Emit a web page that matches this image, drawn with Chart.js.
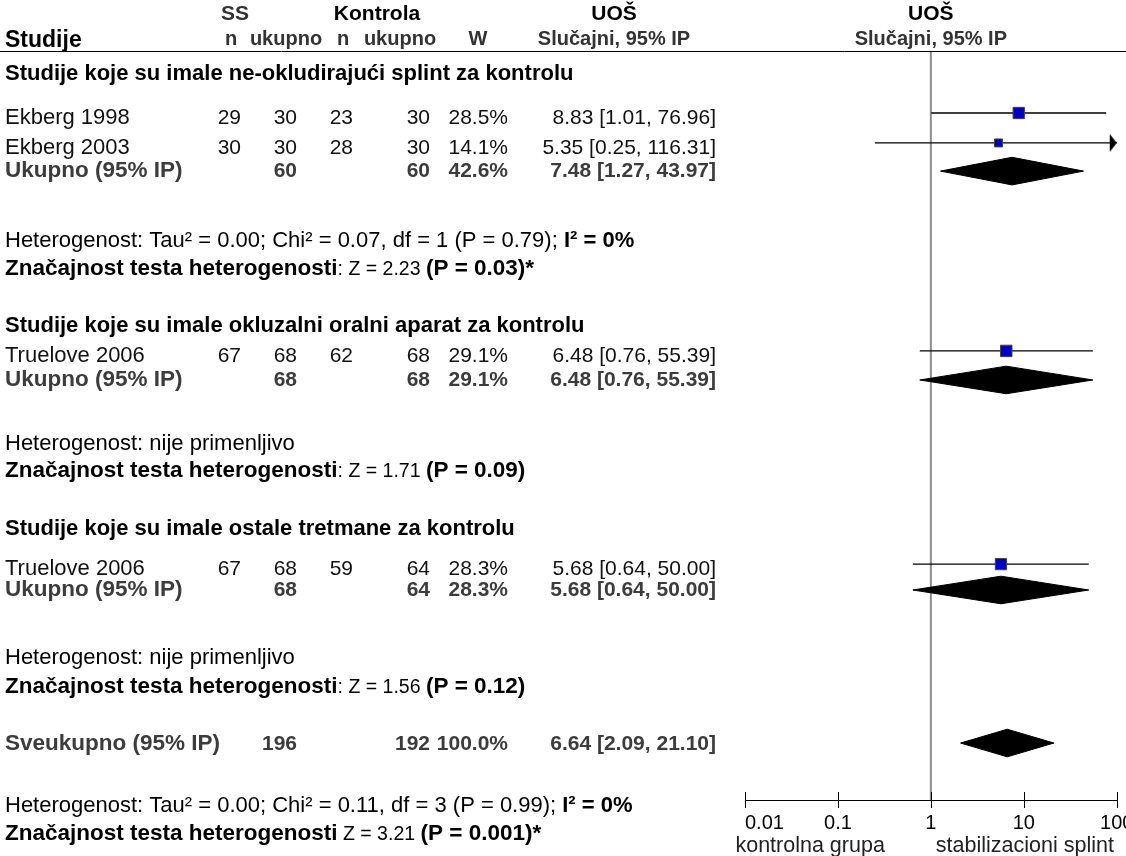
<!DOCTYPE html>
<html>
<head>
<meta charset="utf-8">
<script src="https://cdn.jsdelivr.net/npm/chart.js@4.4.1/dist/chart.umd.min.js"></script>
<style>
  html, body { margin: 0; padding: 0; background: #fff; }
  #forest { display: block; }
</style>
</head>
<body>
<canvas id="forest" width="1126" height="856"></canvas>
<script>
// study level data
const studies = ['Ekberg 1998', 'Ekberg 2003', 'Truelove 2006', 'Truelove 2006'];
const ssEvents = [29, 30, 67, 67];
const ssTotal = [30, 30, 68, 68];
const ctlEvents = [23, 28, 62, 59];
const ctlTotal = [30, 30, 68, 64];
const weights = [28.5, 14.1, 29.1, 28.3];
const orEst = [8.83, 5.35, 6.48, 5.68];
const orLow = [1.01, 0.25, 0.76, 0.64];
const orHigh = [76.96, 116.31, 55.39, 50.00];

// subgroup data
const groupTitles = [
  'Studije koje su imale ne-okludirajući splint za kontrolu',
  'Studije koje su imale okluzalni oralni aparat za kontrolu',
  'Studije koje su imale ostale tretmane za kontrolu'
];
const groupMembers = [[0, 1], [2], [3]];
const groupSsTotal = [60, 68, 68];
const groupCtlTotal = [60, 68, 64];
const groupWeight = [42.6, 29.1, 28.3];
const groupEst = [7.48, 6.48, 5.68];
const groupLow = [1.27, 0.76, 0.64];
const groupHigh = [43.97, 55.39, 50.00];
const groupHet = ['Tau² = 0.00; Chi² = 0.07, df = 1 (P = 0.79); ', 'nije primenljivo', 'nije primenljivo'];
const groupI2 = ['I² = 0%', '', ''];
const groupZ = ['2.23', '1.71', '1.56'];
const groupP = ['0.03', '0.09', '0.12'];
const groupStar = [true, false, false];

// overall
const overallSsTotal = 196;
const overallCtlTotal = 192;
const overallWeight = 100.0;
const overallEst = 6.64, overallLow = 2.09, overallHigh = 21.10;
const overallHet = 'Tau² = 0.00; Chi² = 0.11, df = 3 (P = 0.99); ';
const overallI2 = 'I² = 0%';
const overallZ = '3.21', overallP = '0.001';

// axis
const tickVals = [0.01, 0.1, 1, 10, 100];
const tickLabels = ['0.01', '0.1', '1', '10', '100'];
const favourLabels = ['kontrolna grupa', 'stabilizacioni splint'];
const colHeads = ['n', 'ukupno', 'n', 'ukupno', 'W', 'Slučajni, 95% IP'];

// layout (row slots on the y scale, column positions in px)
const rowY = {
  head1: -1.36, head2: -0.49,
  groups: [0.73, 9.49, 16.55],
  studies: [2.12, 3.16, 10.39, 17.80],
  totals: [4.14, 11.40, 18.70],
  het: [6.53, 13.59, 21.03],
  sig: [7.51, 14.53, 22.04],
  overall: 24.02, overallHet: 26.17, overallSig: 27.15
};
const colX = { name: 5, ssN: 241, ssTot: 297, ctlN: 353, ctlTot: 430, w: 508, ci: 716 };
const colHeadX = [231, 286, 343, 400, 478, 614];
const diamondHalf = 0.48;
const xMax = 100;

const FAM = '"Liberation Sans", Arial, sans-serif';
const font = (size, bold) => (bold ? 'bold ' : '') + size + 'px ' + FAM;
const ci = (e, l, h) => e.toFixed(2) + ' [' + l.toFixed(2) + ', ' + h.toFixed(2) + ']';

function arrowHead() {
  const c = document.createElement('canvas');
  c.width = 16; c.height = 20;
  const g = c.getContext('2d');
  g.fillStyle = '#000';
  g.beginPath(); g.moveTo(1, 1); g.lineTo(8, 10); g.lineTo(1, 19); g.closePath(); g.fill();
  return c;
}
const arrow = arrowHead();

function put(ctx, x, yc, runs, align) {
  let w = 0;
  runs.forEach(r => { ctx.font = r[1]; r.w = ctx.measureText(r[0]).width; w += r.w; });
  let cx = align === 'right' ? x - w : align === 'center' ? x - w / 2 : x;
  ctx.textAlign = 'left';
  ctx.textBaseline = 'alphabetic';
  runs.forEach(r => {
    ctx.font = r[1]; ctx.fillStyle = r[2] || '#000';
    ctx.fillText(r[0], cx, yc + 7);
    cx += r.w;
  });
}

const datasets = [];

// reference line at 1
datasets.push({
  data: [{ x: 1, y: 0 }, { x: 1, y: 26 }],
  showLine: true, borderColor: '#8c8c8c', borderWidth: 2, pointRadius: 0, order: 3
});

// confidence intervals
studies.forEach((s, i) => {
  const clipped = orHigh[i] > xMax;
  datasets.push({
    data: [{ x: orLow[i], y: rowY.studies[i] }, { x: Math.min(orHigh[i], xMax), y: rowY.studies[i] }],
    showLine: true, borderColor: '#000', borderWidth: 1.3,
    pointRadius: [0, clipped ? 8 : 0], pointStyle: arrow, order: 1, clip: false
  });
});

// study squares
datasets.push({
  data: studies.map((s, i) => ({ x: orEst[i], y: rowY.studies[i] })),
  pointStyle: 'rect',
  pointRadius: weights.map(w => 1.5 * Math.sqrt(w)),
  backgroundColor: '#0000c8', borderColor: '#444', borderWidth: 1, order: 0
});

// diamonds
const pooled = groupEst.map((e, g) => ({ e, l: groupLow[g], h: groupHigh[g], y: rowY.totals[g] }));
pooled.push({ e: overallEst, l: overallLow, h: overallHigh, y: rowY.overall });
pooled.forEach(p => {
  datasets.push({
    data: [
      { x: p.l, y: p.y }, { x: p.e, y: p.y - diamondHalf }, { x: p.h, y: p.y },
      { x: p.e, y: p.y + diamondHalf }, { x: p.l, y: p.y }
    ],
    showLine: true, fill: 'shape', tension: 0,
    backgroundColor: '#000', borderColor: '#000', borderWidth: 1, pointRadius: 0, order: 2
  });
});

const tablePlugin = {
  id: 'forestTable',
  afterDraw(chart) {
    const ctx = chart.ctx, xs = chart.scales.x, ys = chart.scales.y;
    const Y = v => ys.getPixelForValue(v);
    const x1 = xs.getPixelForValue(1);
    ctx.save();

    // header rule
    ctx.strokeStyle = '#000'; ctx.lineWidth = 1;
    ctx.beginPath();
    const hy = Math.round(Y(0)) - 0.5;
    ctx.moveTo(0, hy); ctx.lineTo(chart.width, hy);
    // axis tick marks crossing the axis line
    tickVals.forEach(v => {
      const px = Math.round(xs.getPixelForValue(v)) + 0.5;
      ctx.moveTo(px, xs.top - 8); ctx.lineTo(px, xs.top + 8);
    });
    ctx.stroke();

    // tick labels: first one starts at its tick, the rest are centred
    tickVals.forEach((v, i) => {
      put(ctx, xs.getPixelForValue(v), xs.top + 22, [[tickLabels[i], font(20)]], i === 0 ? 'left' : 'center');
    });

    // column headers
    put(ctx, 235, Y(rowY.head1), [['SS', font(21, true), '#333']], 'center');
    put(ctx, 377, Y(rowY.head1), [['Kontrola', font(21, true)]], 'center');
    put(ctx, 614, Y(rowY.head1), [['UOŠ', font(21, true)]], 'center');
    put(ctx, x1, Y(rowY.head1), [['UOŠ', font(21, true)]], 'center');
    put(ctx, colX.name, Y(rowY.head2) + 2, [['Studije', font(23, true)]], 'left');
    colHeads.forEach((h, i) => put(ctx, colHeadX[i], Y(rowY.head2), [[h, font(20, true), '#333']], 'center'));
    put(ctx, x1, Y(rowY.head2), [[colHeads[5], font(20, true), '#333']], 'center');

    const grey = '#3c3c3c';
    const numRow = (yc, cells, bold, color) => {
      cells.forEach(([txt, x]) => put(ctx, x, yc, [[String(txt), font(21, bold), color]], 'right'));
    };

    groupTitles.forEach((title, g) => {
      put(ctx, colX.name, Y(rowY.groups[g]), [[title, font(22, true)]], 'left');
      groupMembers[g].forEach(i => {
        const yc = Y(rowY.studies[i]) + 4;
        put(ctx, colX.name, yc, [[studies[i], font(22), '#111']], 'left');
        numRow(yc, [[ssEvents[i], colX.ssN], [ssTotal[i], colX.ssTot], [ctlEvents[i], colX.ctlN],
          [ctlTotal[i], colX.ctlTot], [weights[i].toFixed(1) + '%', colX.w],
          [ci(orEst[i], orLow[i], orHigh[i]), colX.ci]], false, '#111');
      });
      const ty = Y(rowY.totals[g]) - 1;
      put(ctx, colX.name, ty, [['Ukupno (95% IP)', font(22.5, true), grey]], 'left');
      numRow(ty, [[groupSsTotal[g], colX.ssTot], [groupCtlTotal[g], colX.ctlTot],
        [groupWeight[g].toFixed(1) + '%', colX.w], [ci(groupEst[g], groupLow[g], groupHigh[g]), colX.ci]], true, grey);

      const het = [['Heterogenost: ' + groupHet[g], font(22)]];
      if (groupI2[g]) het.push([groupI2[g], font(22, true)]);
      put(ctx, colX.name, Y(rowY.het[g]), het, 'left');
      put(ctx, colX.name, Y(rowY.sig[g]), [
        ['Značajnost testa heterogenosti', font(22.5, true)],
        [': Z = ' + groupZ[g] + ' ', font(19.5)],
        ['(P = ' + groupP[g] + ')' + (groupStar[g] ? '*' : ''), font(22.5, true)]
      ], 'left');
    });

    // overall
    const oy = Y(rowY.overall);
    put(ctx, colX.name, oy, [['Sveukupno (95% IP)', font(22.5, true), grey]], 'left');
    numRow(oy, [[overallSsTotal, colX.ssTot], [overallCtlTotal, colX.ctlTot],
      [overallWeight.toFixed(1) + '%', colX.w], [ci(overallEst, overallLow, overallHigh), colX.ci]], true, grey);
    put(ctx, colX.name, Y(rowY.overallHet), [['Heterogenost: ' + overallHet, font(22)], [overallI2, font(22, true)]], 'left');
    put(ctx, colX.name, Y(rowY.overallSig), [
      ['Značajnost testa heterogenosti', font(22.5, true)],
      [' Z = ' + overallZ + ' ', font(19.5)],
      ['(P = ' + overallP + ')*', font(22.5, true)]
    ], 'left');

    // favour captions
    put(ctx, x1 - 46, xs.top + 45, [[favourLabels[0], font(21.5), '#222']], 'right');
    put(ctx, x1 + 5, xs.top + 45, [[favourLabels[1], font(21.5), '#222']], 'left');

    ctx.restore();
  }
};

new Chart(document.getElementById('forest'), {
  type: 'scatter',
  data: { datasets },
  options: {
    responsive: false,
    animation: false,
    devicePixelRatio: 1,
    events: [],
    layout: { padding: { left: 745, right: 6, top: 52, bottom: 6 } },
    plugins: { legend: { display: false }, tooltip: { enabled: false } },
    scales: {
      x: {
        type: 'logarithmic', min: 0.01, max: xMax, position: 'bottom',
        afterBuildTicks: s => { s.ticks = tickVals.map(v => ({ value: v })); },
        afterFit: s => { s.height = 50; s.paddingLeft = 0; s.paddingRight = 0; },
        ticks: { display: false },
        grid: { drawOnChartArea: false, drawTicks: false },
        border: { display: true, color: '#000', width: 1 }
      },
      y: { type: 'linear', min: 0, max: 26, reverse: true, display: false }
    }
  },
  plugins: [tablePlugin]
});
</script>
</body>
</html>
